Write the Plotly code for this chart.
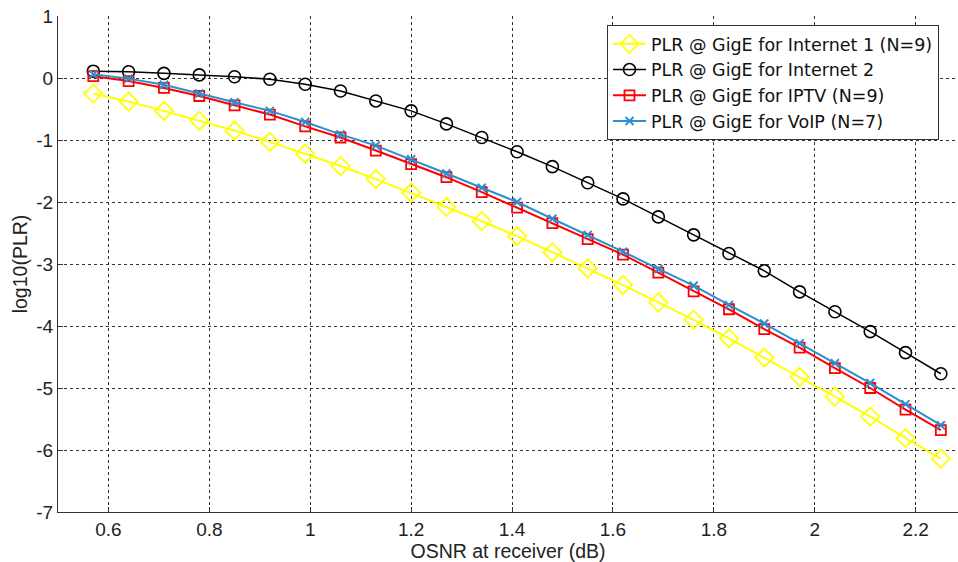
import numpy as np
import plotly.graph_objects as go

# OSNR sample points at the receiver (dB)
osnr = [0.57, 0.64, 0.71, 0.78, 0.85, 0.92, 0.99, 1.06, 1.13, 1.20, 1.27, 1.34, 1.41,
        1.48, 1.55, 1.62, 1.69, 1.76, 1.83, 1.90, 1.97, 2.04, 2.11, 2.18, 2.25]

# log10 of packet loss ratio for each service
plr_internet1 = [-0.25, -0.38, -0.53, -0.69, -0.85, -1.03, -1.22, -1.42, -1.63, -1.85, -2.08,
                 -2.31, -2.55, -2.81, -3.07, -3.34, -3.62, -3.90, -4.20, -4.51, -4.82, -5.14,
                 -5.46, -5.81, -6.14]
plr_internet2 = [0.11, 0.10, 0.075, 0.05, 0.02, -0.02, -0.10, -0.21, -0.37, -0.53, -0.74,
                 -0.96, -1.19, -1.43, -1.69, -1.95, -2.24, -2.53, -2.83, -3.11, -3.45, -3.77,
                 -4.09, -4.43, -4.77]
plr_iptv = [0.03, -0.05, -0.16, -0.29, -0.44, -0.59, -0.78, -0.96, -1.17, -1.39, -1.60,
            -1.84, -2.09, -2.34, -2.60, -2.85, -3.14, -3.44, -3.73, -4.05, -4.35, -4.68,
            -5.00, -5.35, -5.68]
plr_voip = [0.06, -0.01, -0.11, -0.25, -0.39, -0.53, -0.71, -0.91, -1.09, -1.31, -1.54,
            -1.77, -2.00, -2.27, -2.53, -2.80, -3.08, -3.35, -3.66, -3.96, -4.28, -4.60,
            -4.92, -5.26, -5.60]

series_names = [
    "PLR @ GigE for Internet 1 (N=9)",
    "PLR @ GigE for Internet 2",
    "PLR @ GigE for IPTV (N=9)",
    "PLR @ GigE for VoIP (N=7)",
]

x_ticks = [0.6, 0.8, 1.0, 1.2, 1.4, 1.6, 1.8, 2.0, 2.2]
y_ticks = [1, 0, -1, -2, -3, -4, -5, -6, -7]

FONT = "Liberation Sans, Arial, sans-serif"
LEGEND_FONT = "DejaVu Sans, Liberation Sans, sans-serif"

fig = go.Figure()

fig.add_trace(go.Scatter(
    x=osnr, y=plr_internet1, name=series_names[0], mode="lines+markers",
    line=dict(color="#FFFF00", width=2),
    marker=dict(symbol="diamond-open", size=14, color="#FFFF00", line=dict(width=1.8)),
))
fig.add_trace(go.Scatter(
    x=osnr, y=plr_internet2, name=series_names[1], mode="lines+markers",
    line=dict(color="#000000", width=1.5),
    marker=dict(symbol="circle-open", size=12, color="#000000", line=dict(width=1.6)),
))
fig.add_trace(go.Scatter(
    x=osnr, y=plr_iptv, name=series_names[2], mode="lines+markers",
    line=dict(color="#FF0000", width=2),
    marker=dict(symbol="square-open", size=10, color="#FF0000", line=dict(width=1.8)),
))
fig.add_trace(go.Scatter(
    x=osnr, y=plr_voip, name=series_names[3], mode="lines+markers",
    line=dict(color="#2B8FD0", width=2),
    marker=dict(symbol="x-thin-open", size=8, color="#2B8FD0", line=dict(width=2, color="#2B8FD0")),
))

axis_common = dict(
    showline=True, linecolor="#333333", linewidth=1.2,
    ticks="inside", ticklen=5, tickcolor="#333333", tickwidth=1,
    showgrid=True, gridcolor="#333333", gridwidth=1, griddash="dot",
    zeroline=False, mirror=False,
    tickfont=dict(family=FONT, size=19, color="#222222"),
)

fig.update_xaxes(
    range=[0.5, 2.284], tickvals=x_ticks, ticktext=[f"{v:g}" for v in x_ticks],
    title=dict(text="OSNR at receiver (dB)", font=dict(family=FONT, size=19.5, color="#222222"),
               standoff=6),
    **axis_common,
)
fig.update_yaxes(
    range=[-7, 1], tickvals=y_ticks, ticktext=[str(v) for v in y_ticks],
    title=dict(text="log10(PLR)", font=dict(family=FONT, size=19.5, color="#222222"),
               standoff=3),
    **axis_common,
)

fig.update_layout(
    width=958, height=562,
    margin=dict(l=58, r=0, t=16, b=50),
    paper_bgcolor="white", plot_bgcolor="white",
    font=dict(family=FONT, size=19, color="#222222"),
    showlegend=True,
    legend=dict(
        x=0.61, y=0.982, xanchor="left", yanchor="top",
        bgcolor="white", bordercolor="#333333", borderwidth=1,
        font=dict(family=LEGEND_FONT, size=17.5, color="#111111"),
        tracegroupgap=0, itemwidth=33,
    ),
)

fig.write_html("out.html")
